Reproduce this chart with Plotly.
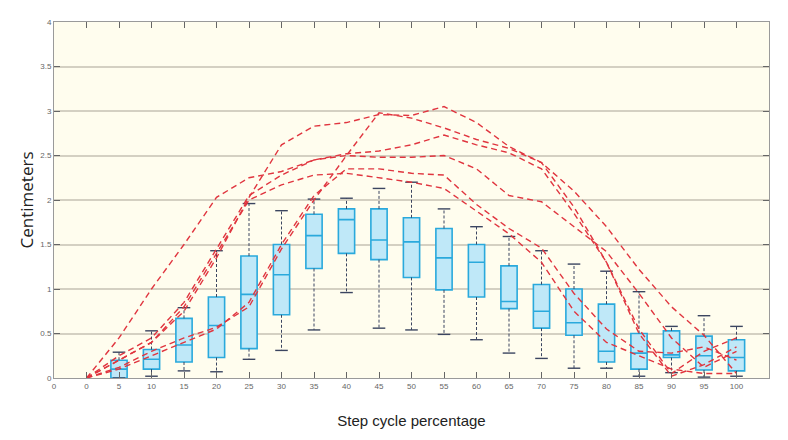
import plotly.graph_objects as go

# ---------------- data ----------------
pct_labels = ["0", "5", "10", "15", "20", "25", "30", "35", "40", "45", "50",
              "55", "60", "65", "70", "75", "80", "85", "90", "95", "100"]
box_pct = ["5", "10", "15", "20", "25", "30", "35", "40", "45", "50",
           "55", "60", "65", "70", "75", "80", "85", "90", "95", "100"]
box_min = [0.00, 0.02, 0.08, 0.07, 0.21, 0.31, 0.54, 0.96, 0.56, 0.54,
           0.49, 0.43, 0.28, 0.22, 0.11, 0.11, 0.02, 0.06, 0.01, 0.02]
box_q1 = [0.00, 0.10, 0.18, 0.23, 0.33, 0.71, 1.23, 1.40, 1.33, 1.13,
          0.99, 0.91, 0.78, 0.56, 0.48, 0.18, 0.10, 0.23, 0.09, 0.08]
box_med = [0.10, 0.21, 0.37, 0.59, 0.94, 1.16, 1.60, 1.78, 1.55, 1.53,
           1.35, 1.30, 0.86, 0.75, 0.62, 0.30, 0.28, 0.26, 0.25, 0.23]
box_q3 = [0.20, 0.32, 0.67, 0.91, 1.37, 1.50, 1.84, 1.90, 1.90, 1.80,
          1.68, 1.50, 1.26, 1.05, 1.00, 0.83, 0.50, 0.53, 0.47, 0.43]
box_max = [0.29, 0.53, 0.79, 1.43, 1.96, 1.88, 2.01, 2.02, 2.13, 2.20,
           1.90, 1.70, 1.59, 1.43, 1.28, 1.20, 0.97, 0.58, 0.70, 0.58]

subject_a = [0, 0.20, 0.40, 0.75, 1.35, 2.03, 2.62, 2.83, 2.87, 2.96, 2.95,
             3.05, 2.87, 2.60, 2.42, 2.10, 1.70, 1.22, 0.80, 0.48, 0.05]
subject_b = [0, 0.12, 0.30, 0.45, 0.57, 0.80, 1.45, 2.00, 2.50, 2.98, 2.92,
             2.81, 2.68, 2.58, 2.42, 1.92, 1.30, 0.55, 0.05, 0.30, 0.45]
subject_c = [0, 0.45, 1.00, 1.50, 2.03, 2.25, 2.32, 2.45, 2.52, 2.55, 2.62,
             2.73, 2.62, 2.53, 2.35, 1.85, 1.30, 0.50, 0.02, 0.15, 0.35]
subject_d = [0, 0.25, 0.45, 0.85, 1.45, 2.05, 2.28, 2.45, 2.50, 2.48, 2.48,
             2.50, 2.35, 2.05, 1.98, 1.70, 1.42, 0.95, 0.45, 0.12, 0.30]
subject_e = [0, 0.10, 0.25, 0.40, 0.55, 0.85, 1.50, 2.05, 2.35, 2.35, 2.30,
             2.28, 1.95, 1.68, 1.46, 0.95, 0.55, 0.30, 0.28, 0.35, 0.20]
subject_f = [0, 0.20, 0.40, 0.80, 1.40, 2.00, 2.17, 2.28, 2.30, 2.25, 2.20,
             2.13, 1.87, 1.62, 1.30, 0.75, 0.40, 0.25, 0.10, 0.05, 0.05]
subjects = [subject_a, subject_b, subject_c, subject_d, subject_e, subject_f]

# category positions (boxplot style: group k at position k)
pos_all = list(range(1, len(pct_labels) + 1))
pos_box = [pct_labels.index(p) + 1 for p in box_pct]

BOX_EDGE = "#2aa9dc"
BOX_FILL = "#bfe8f8"
WHISK = "#3b4560"
RED = "#e0353f"

fig = go.Figure()

fig.add_trace(go.Box(
    x=pos_box, q1=box_q1, median=box_med, q3=box_q3,
    lowerfence=box_q1, upperfence=box_q3,
    width=0.5, boxpoints=False,
    line=dict(color=BOX_EDGE, width=1.6),
    fillcolor=BOX_FILL, whiskerwidth=0, showlegend=False,
    hoverinfo="skip"))

# whiskers (dashed) and caps
wx, wy = [], []
for p, lo, q1, q3, hi in zip(pos_box, box_min, box_q1, box_q3, box_max):
    wx += [p, p, None, p, p, None]
    wy += [q3, hi, None, q1, lo, None]
fig.add_trace(go.Scatter(x=wx, y=wy, mode="lines",
                         line=dict(color=WHISK, width=1, dash="3px,2px"),
                         showlegend=False, hoverinfo="skip"))
fig.add_trace(go.Scatter(x=pos_box + pos_box, y=box_max + box_min, mode="markers",
                         marker=dict(symbol="line-ew", size=9,
                                     line=dict(color=WHISK, width=1.4)),
                         showlegend=False, hoverinfo="skip"))

for s in subjects:
    fig.add_trace(go.Scatter(x=pos_all, y=s, mode="lines",
                             line=dict(color=RED, width=1.4, dash="6px,4px"),
                             showlegend=False, hoverinfo="skip"))

fig.update_layout(
    width=788, height=440,
    margin=dict(l=46, r=27, t=10, b=70),
    paper_bgcolor="white",
    plot_bgcolor="#fffdee",
    font=dict(family="Liberation Sans, Arial, sans-serif", color="#555555", size=8),
)
fig.update_xaxes(
    range=[0, 22],
    tickvals=[0] + pos_all,
    ticktext=["0"] + pct_labels,
    ticks="inside", ticklen=6, tickcolor="#666666", tickwidth=1,
    showline=True, linecolor="#9a9a9a", linewidth=1, mirror="ticks",
    showgrid=False, zeroline=False,
    tickfont=dict(size=8, color="#666666"),
    title=dict(text="Step cycle percentage",
               font=dict(family="Liberation Sans, Arial, sans-serif", size=15, color="#222222"),
               standoff=25),
)
fig.update_yaxes(
    range=[0, 4],
    tickvals=[0, 0.5, 1, 1.5, 2, 2.5, 3, 3.5, 4],
    ticktext=["0", "0.5", "1", "1.5", "2", "2.5", "3", "3.5", "4"],
    ticks="inside", ticklen=6, tickcolor="#666666",
    showline=True, linecolor="#9a9a9a", linewidth=1, mirror="ticks",
    showgrid=True, gridcolor="#d4d0c2", gridwidth=1.5, zeroline=False,
    tickfont=dict(size=8, color="#666666"),
    title=dict(text="Centimeters",
               font=dict(family="Open Sans, sans-serif", size=17, color="#222222"),
               standoff=2),
)

fig.write_html("out.html")
